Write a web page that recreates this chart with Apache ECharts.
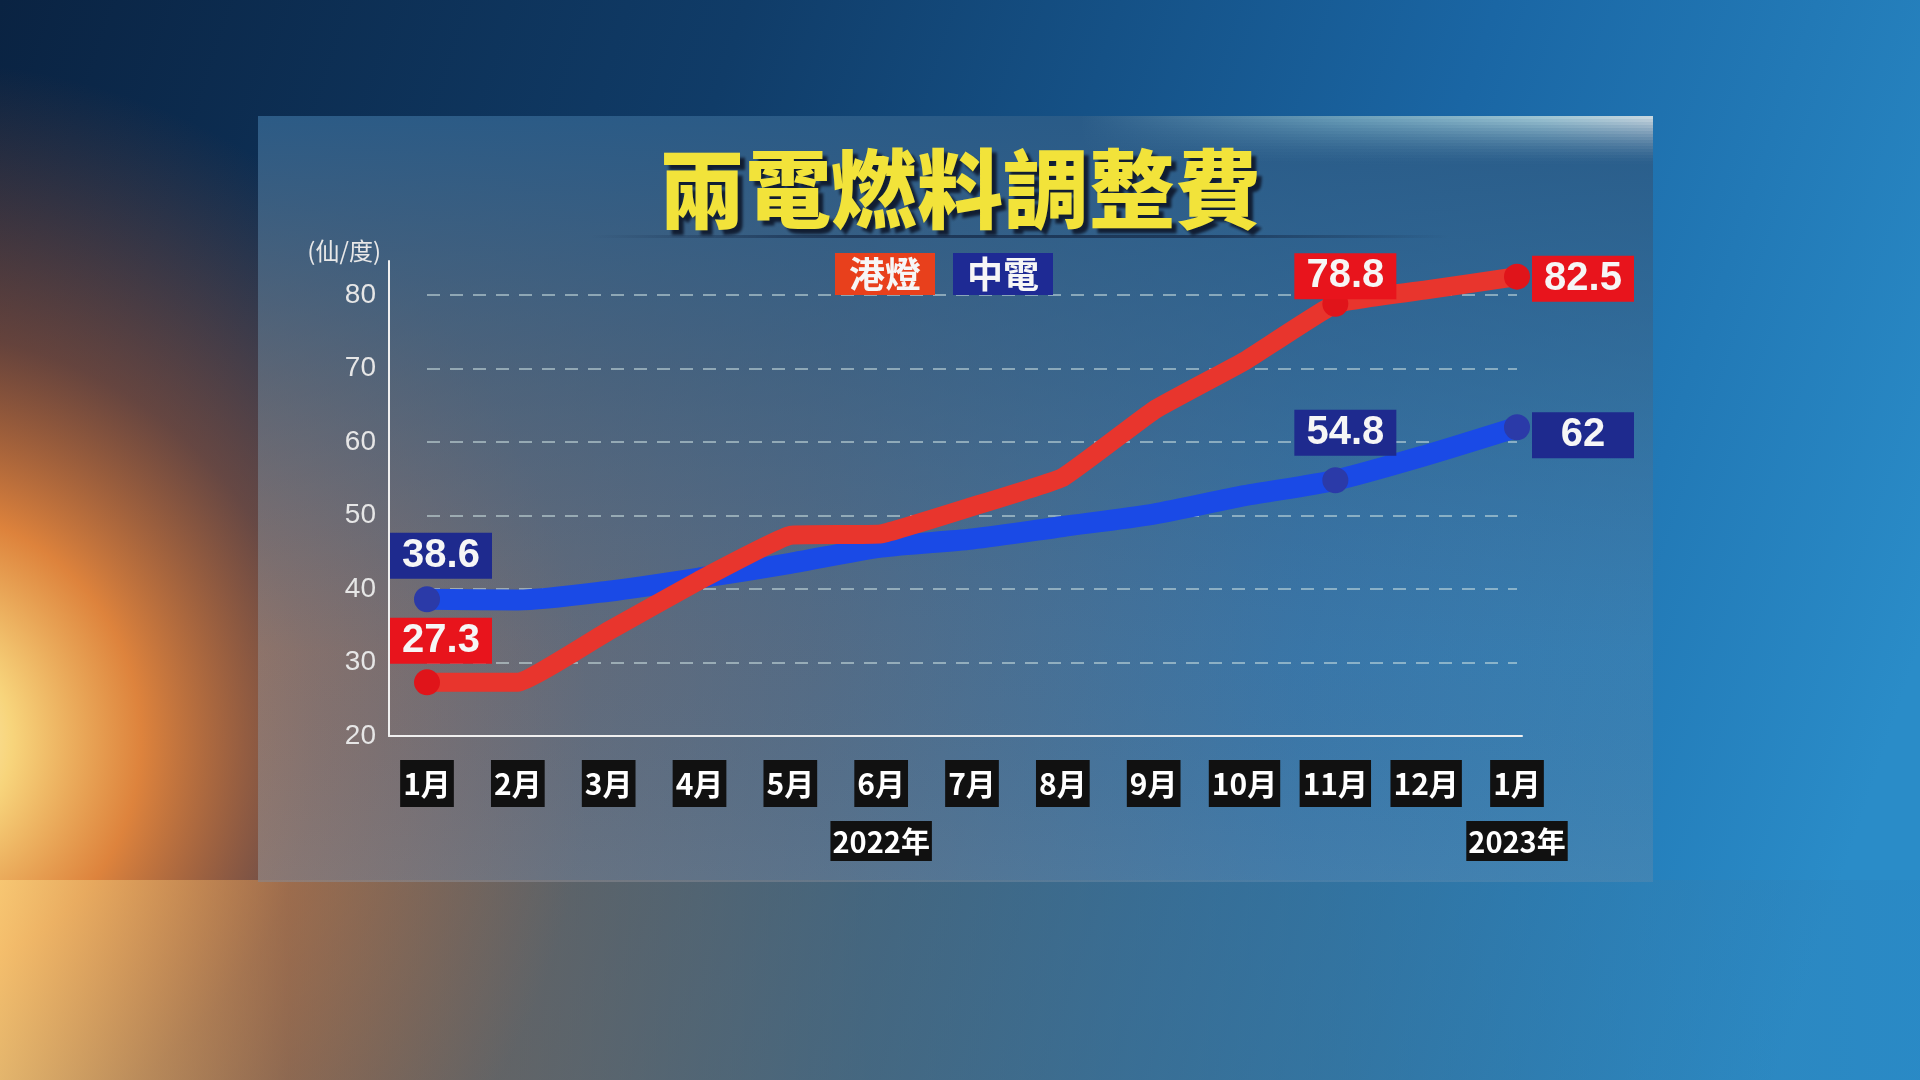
<!DOCTYPE html>
<html><head><meta charset="utf-8">
<script src="https://cdn.jsdelivr.net/npm/echarts@6/dist/echarts.min.js"></script>
<style>html,body{margin:0;padding:0;background:#0d2b4a;}#c{width:1920px;height:1080px;}</style>
</head><body><div id="c"></div>
<script>
// ---- data ----
const titleText = '兩電燃料調整費';
const unitName = '(仙/度)';
const categories = ['1月','2月','3月','4月','5月','6月','7月','8月','9月','10月','11月','12月','1月'];
const yearLabels = ['','','','','','2022年','','','','','','','2023年'];
const seriesNames = ['港燈','中電'];
const hkeValues = [27.3, 27.3, 34.3, 41.2, 47.3, 47.5, 51.2, 55.2, 64.3, 71.0, 78.8, 80.7, 82.5];
const clpValues = [38.6, 38.5, 39.7, 41.5, 43.5, 45.7, 46.8, 48.5, 50.2, 52.7, 54.8, 58.2, 62.0];
const labeledIdx = [0, 10, 12];
const yMin = 20, yMax = 80, yStep = 10;

// ---- styles ----
const RED = '#e8352d', RED_DOT = '#e0141a', RED_BOX = '#e8141c';
const BLUE = '#1a4ae6', BLUE_DOT = '#2b3aa8', BLUE_BOX = '#1e2a8e';
const hkeLabelPos = {0:{position:'top',distance:8,offset:[14,0]},10:{position:'top',distance:2,offset:[10,8]},12:{position:'right',distance:2,offset:[0,2]}};
const clpLabelPos = {0:{position:'top',distance:10,offset:[14,0]},10:{position:'top',distance:14,offset:[10,0]},12:{position:'right',distance:2,offset:[0,8]}};

function buildData(values, posMap, dotColor, boxColor) {
  return values.map((v, i) => {
    if (labeledIdx.indexOf(i) < 0) return v;
    const p = posMap[i];
    return {
      value: v,
      symbol: 'circle', symbolSize: 26,
      itemStyle: { color: dotColor },
      label: {
        show: true, position: p.position, distance: p.distance, offset: p.offset,
        formatter: '{v|{c}}',
        rich: { v: { color: '#f6f6f6', fontSize: 40, fontWeight: 'bold', fontFamily: 'Liberation Sans',
          backgroundColor: boxColor, padding: [3, 11, 3, 11], width: 80, align: 'center', lineHeight: 41 } }
      }
    };
  });
}

function grad(x2, y2, stops) {
  return { type: 'linear', x: 0, y: 0, x2: x2, y2: y2, colorStops: stops.map(s => ({offset: s[0], color: s[1]})) };
}

// soft highlight along the panel's top edge (decoration)
const glowStrips = [];
for (let k = 0; k < 16; k++) {
  const a = 0.8 * Math.pow(1 - k / 16, 1.6);
  glowStrips.push({ type: 'rect', shape: {x: 1080, y: 116 + k * 3, width: 573, height: 3}, silent: true, z: -6,
    style: { fill: grad(1, 0, [[0, 'rgba(190,240,245,0)'], [0.45, 'rgba(185,238,242,' + (a * 0.55).toFixed(3) + ')'],
      [0.8, 'rgba(210,245,245,' + (a * 0.85).toFixed(3) + ')'], [1, 'rgba(240,245,245,' + a.toFixed(3) + ')']]) } });
}

const chart = echarts.init(document.getElementById('c'), null, {renderer: 'canvas'});

const option = {
  backgroundColor: grad(1, 0.6, [[0, '#0a2342'], [0.35, '#103c68'], [0.7, '#1a66a4'], [1, '#2a8cc8']]),
  animation: false,
  graphic: [
    // orange glow at left
    { type: 'circle', shape: {cx: -90, cy: 740, r: 680}, silent: true, z: -10,
      style: { fill: { type: 'radial', x: 0.5, y: 0.5, r: 0.5, colorStops: [
        {offset: 0, color: 'rgba(255,250,215,1)'},
        {offset: 0.15, color: 'rgba(255,218,125,0.97)'},
        {offset: 0.34, color: 'rgba(244,140,58,0.9)'},
        {offset: 0.6, color: 'rgba(210,100,45,0.45)'},
        {offset: 1, color: 'rgba(200,90,40,0)'}]}}},
    // bottom floor band
    { type: 'rect', shape: {x: 0, y: 880, width: 1920, height: 200}, silent: true, z: -9,
      style: { fill: grad(1, 0, [[0, 'rgba(250,205,120,0.8)'], [0.15, 'rgba(200,135,80,0.55)'],
        [0.45, 'rgba(115,120,115,0.5)'], [0.7, 'rgba(75,120,145,0.45)'], [1, 'rgba(40,130,190,0.25)']]) } },
    // panel
    { type: 'rect', shape: {x: 258, y: 116, width: 1395, height: 766}, silent: true, z: -8,
      style: { fill: grad(1, 0, [[0, 'rgba(150,125,115,0.78)'], [0.4, 'rgba(110,120,135,0.72)'],
        [0.75, 'rgba(70,125,170,0.7)'], [1, 'rgba(60,130,180,0.75)']]) } },
    { type: 'rect', shape: {x: 258, y: 116, width: 1395, height: 766}, silent: true, z: -7,
      style: { fill: grad(0, 1, [[0, 'rgba(40,90,135,0.95)'], [0.35, 'rgba(45,90,130,0.45)'],
        [0.7, 'rgba(60,100,140,0.05)'], [1, 'rgba(120,150,170,0.15)']]) } },
    ...glowStrips,
    // title underline
    { type: 'rect', shape: {x: 590, y: 235, width: 860, height: 3}, silent: true, z: -5,
      style: { fill: grad(1, 0, [[0, 'rgba(20,40,70,0)'], [0.3, 'rgba(20,40,70,0.7)'], [0.7, 'rgba(20,40,70,0.7)'], [1, 'rgba(20,40,70,0)']]) } }
  ],
  title: {
    text: titleText, left: 'center', top: 138,
    textStyle: { color: '#f2e33a', fontSize: 86, fontWeight: 900, fontFamily: 'Noto Sans CJK TC',
      lineHeight: 92, textShadowColor: 'rgba(15,25,45,0.95)', textShadowBlur: 3,
      textShadowOffsetX: 5, textShadowOffsetY: 5 }
  },
  legend: {
    left: 824, top: 248, itemWidth: 0, itemHeight: 0, itemGap: 12,
    selectedMode: false,
    data: seriesNames,
    formatter: n => n === seriesNames[0] ? '{a|' + n + '}' : '{b|' + n + '}',
    textStyle: {
      rich: {
        a: { color: '#f6f6f6', fontSize: 36, fontWeight: 'bold', fontFamily: 'Noto Sans CJK TC',
             backgroundColor: '#e8401c', padding: [3, 14, 3, 14], lineHeight: 41 },
        b: { color: '#f6f6f6', fontSize: 36, fontWeight: 'bold', fontFamily: 'Noto Sans CJK TC',
             backgroundColor: '#1e2a94', padding: [3, 14, 3, 14], lineHeight: 41 }
      }
    }
  },
  grid: [
    { left: 389, right: 398, top: 261, bottom: 344 },
    { left: 427, right: 403, top: 295, bottom: 344 }
  ],
  xAxis: [
    { gridIndex: 0, type: 'value', min: 0, max: 1,
      axisLine: { show: true, lineStyle: { color: '#f0f0f0', width: 2 } },
      axisTick: { show: false }, axisLabel: { show: false }, splitLine: { show: false } },
    { gridIndex: 1, type: 'category', data: categories, boundaryGap: false,
      axisLine: { show: false }, axisTick: { show: false },
      axisLabel: { interval: 0, margin: 24, color: '#ffffff', fontSize: 30, fontWeight: 'bold',
        fontFamily: 'Noto Sans CJK TC', backgroundColor: '#111111', padding: [6, 3, 5, 3], lineHeight: 36 } },
    { gridIndex: 1, type: 'category', data: yearLabels, boundaryGap: false, position: 'bottom',
      axisLine: { show: false }, axisTick: { show: false },
      axisLabel: { interval: 0, margin: 87,
        formatter: v => v ? '{y|' + v + '}' : '',
        rich: { y: { color: '#ffffff', fontSize: 29, fontWeight: 'bold', fontFamily: 'Noto Sans CJK TC',
          backgroundColor: '#111111', padding: [6, 2, 5, 2], lineHeight: 36 } } } }
  ],
  yAxis: [
    { gridIndex: 0, type: 'value', min: 0, max: 1,
      name: unitName, nameLocation: 'end', nameGap: 10,
      nameTextStyle: { color: '#e8e8e8', fontSize: 24, fontFamily: 'Noto Sans CJK TC', align: 'right',
        verticalAlign: 'middle', padding: [0, 8, 0, 0] },
      axisLine: { show: true, lineStyle: { color: '#f0f0f0', width: 2 } },
      axisTick: { show: false }, axisLabel: { show: false }, splitLine: { show: false } },
    { gridIndex: 1, type: 'value', min: yMin, max: yMax, interval: yStep,
      axisLine: { show: false }, axisTick: { show: false },
      axisLabel: { margin: 51, color: '#e6e6e6', fontSize: 28, fontFamily: 'Liberation Sans' },
      splitLine: { show: true, lineStyle: { color: 'rgba(205,225,225,0.55)', width: 2, type: [13, 10] } } }
  ],
  series: [
    { name: seriesNames[1], type: 'line', xAxisIndex: 1, yAxisIndex: 1, clip: false,
      data: buildData(clpValues, clpLabelPos, BLUE_DOT, BLUE_BOX),
      symbol: 'none', showSymbol: true, showAllSymbol: true, smooth: 0.25,
      lineStyle: { color: BLUE, width: 21, cap: 'round', join: 'round' },
      itemStyle: { color: BLUE }, z: 3 },
    { name: seriesNames[0], type: 'line', xAxisIndex: 1, yAxisIndex: 1, clip: false,
      data: buildData(hkeValues, hkeLabelPos, RED_DOT, RED_BOX),
      symbol: 'none', showSymbol: true, showAllSymbol: true, smooth: 0.1,
      lineStyle: { color: RED, width: 19, cap: 'round', join: 'round' },
      itemStyle: { color: RED }, z: 4 }
  ]
};
chart.setOption(option);
</script></body></html>
